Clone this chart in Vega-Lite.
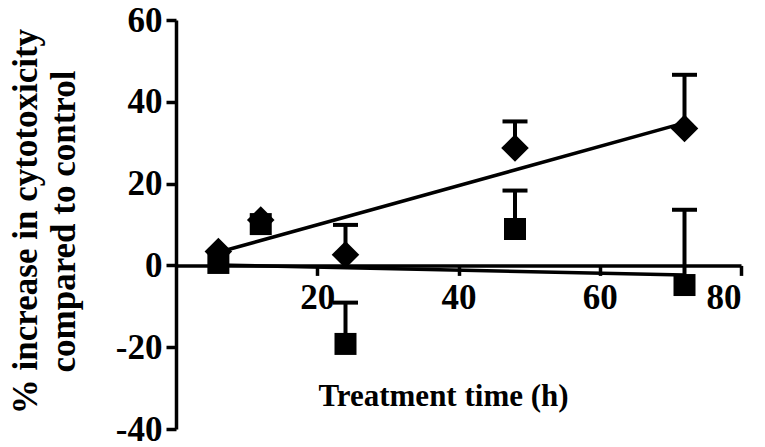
{
  "$schema": "https://vega.github.io/schema/vega-lite/v6.json",
  "width": 565,
  "height": 409,
  "autosize": "none",
  "padding": {"left": 176, "top": 20, "right": 24, "bottom": 18},
  "background": "white",
  "config": {
    "view": {"stroke": null},
    "font": "Liberation Serif",
    "axis": {
      "grid": false,
      "domainColor": "black",
      "domainWidth": 3.5,
      "tickColor": "black",
      "tickWidth": 3.5,
      "tickSize": 10,
      "labelColor": "black",
      "titleColor": "black",
      "labelFont": "Liberation Serif",
      "titleFont": "Liberation Serif",
      "labelFontWeight": "bold",
      "titleFontWeight": "bold",
      "labelFontSize": 35
    }
  },
  "data": {
    "values": [
      {"time": 6, "series": "A", "value": 3.4},
      {"time": 12, "series": "A", "value": 11.1},
      {"time": 24, "series": "A", "value": 2.6, "upper": 9.9},
      {"time": 48, "series": "A", "value": 28.7, "upper": 35.2},
      {"time": 72, "series": "A", "value": 33.5, "upper": 46.6},
      {"time": 6, "series": "B", "value": 0.6},
      {"time": 12, "series": "B", "value": 10.1},
      {"time": 24, "series": "B", "value": -19.2, "upper": -9.1},
      {"time": 48, "series": "B", "value": 8.9, "upper": 18.3},
      {"time": 72, "series": "B", "value": -4.8, "upper": 13.6}
    ]
  },
  "encoding": {
    "x": {
      "field": "time",
      "type": "quantitative",
      "scale": {"domain": [0, 80], "nice": false, "zero": false},
      "axis": {
        "values": [20, 40, 60, 80],
        "offset": -163.6,
        "labelPadding": 5,
        "labelFont": "Liberation Serif",
        "titleFont": "Liberation Serif",
        "title": "Treatment time (h)",
        "titleFontSize": 31,
        "titleX": 267,
        "titleY": 139.6,
        "titleBaseline": "alphabetic"
      }
    },
    "y": {
      "field": "value",
      "type": "quantitative",
      "scale": {"domain": [-40, 60], "nice": false, "zero": false},
      "axis": {
        "values": [-40, -20, 0, 20, 40, 60],
        "labelExpr": "toString(datum.value)",
        "labelPadding": 4,
        "labelFont": "Liberation Serif",
        "titleFont": "Liberation Serif",
        "title": ["% increase in cytotoxicity", "compared to control"],
        "titleFontSize": 35,
        "titleLineHeight": 38,
        "titleAngle": -90,
        "titleX": -140,
        "titleY": 201,
        "titleBaseline": "alphabetic",
        "titleAlign": "center"
      }
    }
  },
  "layer": [
    {
      "transform": [{"regression": "value", "on": "time", "groupby": ["series"]}],
      "mark": {"type": "line", "color": "black", "strokeWidth": 3.5},
      "encoding": {"detail": {"field": "series"}}
    },
    {
      "transform": [{"filter": "isValid(datum.upper)"}],
      "mark": {"type": "rule", "color": "black", "strokeWidth": 4},
      "encoding": {"y2": {"field": "upper"}}
    },
    {
      "transform": [{"filter": "isValid(datum.upper)"}],
      "mark": {"type": "tick", "color": "black", "orient": "horizontal", "size": 25, "thickness": 4, "opacity": 1},
      "encoding": {"y": {"field": "upper", "type": "quantitative"}}
    },
    {
      "transform": [{"filter": "datum.series === 'A'"}],
      "mark": {"type": "point", "shape": "diamond", "filled": true, "color": "black", "opacity": 1, "size": 760}
    },
    {
      "transform": [{"filter": "datum.series === 'B'"}],
      "mark": {"type": "point", "shape": "square", "filled": true, "color": "black", "opacity": 1, "size": 484}
    }
  ]
}
